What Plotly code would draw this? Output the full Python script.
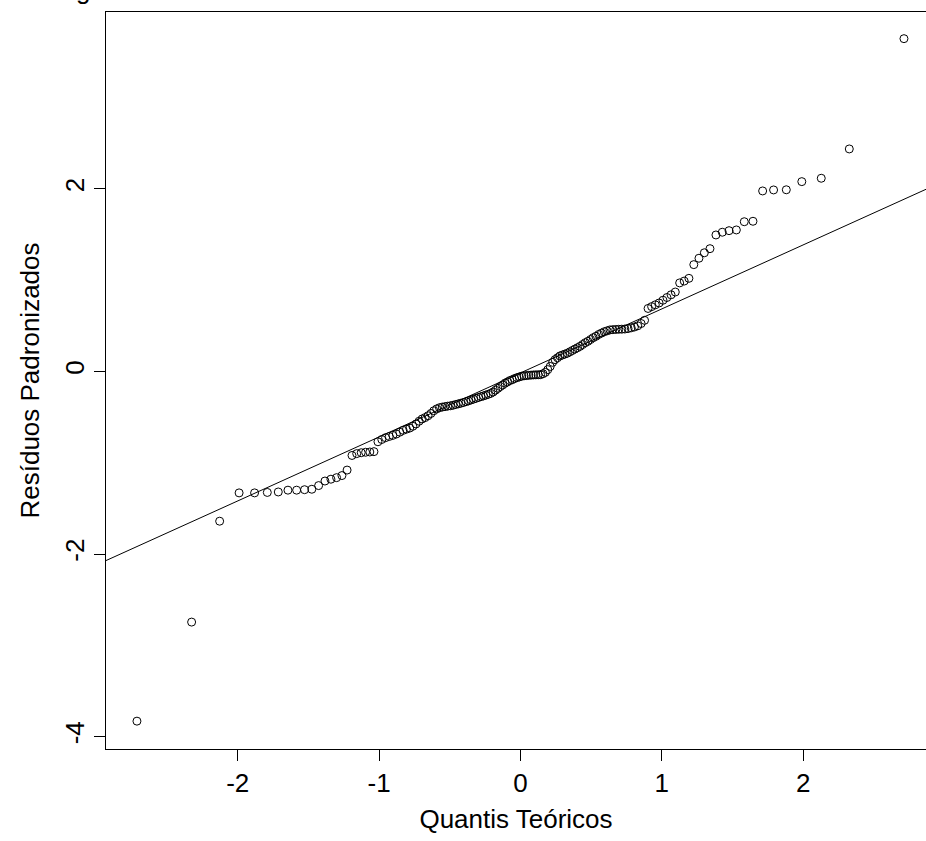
import plotly.graph_objects as go

# Theoretical normal quantiles (x) and sorted standardized residuals (y), n = 150
theoretical_quantiles = [
    -2.7131, -2.3263, -2.1280, -1.9904, -1.8808, -1.7908, -1.7133, -1.6449, -1.5834, -1.5274,
    -1.4758, -1.4279, -1.3830, -1.3408, -1.3008, -1.2628, -1.2264, -1.1917, -1.1584, -1.1264,
    -1.0954, -1.0655, -1.0364, -1.0082, -0.9808, -0.9541, -0.9281, -0.9027, -0.8779, -0.8536,
    -0.8297, -0.8064, -0.7835, -0.7610, -0.7388, -0.7171, -0.6956, -0.6745, -0.6536, -0.6331,
    -0.6128, -0.5927, -0.5729, -0.5534, -0.5340, -0.5148, -0.4958, -0.4770, -0.4584, -0.4399,
    -0.4216, -0.4034, -0.3853, -0.3674, -0.3496, -0.3319, -0.3142, -0.2967, -0.2793, -0.2620,
    -0.2447, -0.2275, -0.2104, -0.1934, -0.1764, -0.1594, -0.1425, -0.1257, -0.1088, -0.0920,
    -0.0753, -0.0585, -0.0418, -0.0251, -0.0084,
    0.0084, 0.0251, 0.0418, 0.0585, 0.0753, 0.0920, 0.1088, 0.1257, 0.1425, 0.1594,
    0.1764, 0.1934, 0.2104, 0.2275, 0.2447, 0.2620, 0.2793, 0.2967, 0.3142, 0.3319,
    0.3496, 0.3674, 0.3853, 0.4034, 0.4216, 0.4399, 0.4584, 0.4770, 0.4958, 0.5148,
    0.5340, 0.5534, 0.5729, 0.5927, 0.6128, 0.6331, 0.6536, 0.6745, 0.6956, 0.7171,
    0.7388, 0.7610, 0.7835, 0.8064, 0.8297, 0.8536, 0.8779, 0.9027, 0.9281, 0.9541,
    0.9808, 1.0082, 1.0364, 1.0655, 1.0954, 1.1264, 1.1584, 1.1917, 1.2264, 1.2628,
    1.3008, 1.3408, 1.3830, 1.4279, 1.4758, 1.5274, 1.5834, 1.6449, 1.7133, 1.7908,
    1.8808, 1.9904, 2.1280, 2.3263, 2.7131,
]

standardized_residuals = [
    -3.830, -2.745, -1.640, -1.330, -1.330, -1.325, -1.320, -1.300, -1.300, -1.295,
    -1.290, -1.250, -1.200, -1.180, -1.163, -1.140, -1.080, -0.920, -0.900, -0.890,
    -0.885, -0.882, -0.878, -0.770, -0.745, -0.725, -0.712, -0.700, -0.685, -0.665,
    -0.645, -0.632, -0.620, -0.600, -0.575, -0.545, -0.520, -0.505, -0.485, -0.460,
    -0.430, -0.410, -0.397, -0.390, -0.385, -0.380, -0.376, -0.370, -0.362, -0.355,
    -0.348, -0.340, -0.331, -0.322, -0.312, -0.303, -0.294, -0.285, -0.276, -0.268,
    -0.259, -0.250, -0.240, -0.225, -0.205, -0.185, -0.165, -0.148, -0.128, -0.115,
    -0.100, -0.090, -0.078, -0.068, -0.060,
    -0.052, -0.048, -0.045, -0.042, -0.040, -0.038, -0.037, -0.036, -0.035, -0.025,
    -0.010, 0.020, 0.055, 0.100, 0.130, 0.150, 0.170, 0.180, 0.190, 0.200,
    0.215, 0.230, 0.245, 0.260, 0.275, 0.295, 0.315, 0.330, 0.350, 0.370,
    0.385, 0.405, 0.420, 0.435, 0.445, 0.455, 0.458, 0.460, 0.462, 0.463,
    0.465, 0.470, 0.478, 0.487, 0.500, 0.525, 0.560, 0.690, 0.710, 0.730,
    0.750, 0.780, 0.810, 0.840, 0.870, 0.970, 0.990, 1.020, 1.170, 1.240,
    1.300, 1.345, 1.495, 1.525, 1.542, 1.550, 1.640, 1.645, 1.977, 1.988,
    1.990, 2.079, 2.116, 2.437, 3.645,
]

# Reference line (qqline)
line_intercept = -0.016
line_slope = 0.701
line_x = [-3.5, 3.5]

x_ticks = [-2, -1, 0, 1, 2]
y_ticks = [-4, -2, 0, 2]
x_title = "Quantis Teóricos"
y_title = "Resíduos Padronizados"
cropped_caption_fragment = "g"

FONT = "Liberation Sans, Arial, sans-serif"

fig = go.Figure()
fig.add_trace(go.Scatter(
    x=theoretical_quantiles, y=standardized_residuals, mode="markers",
    marker=dict(symbol="circle-open", size=8, color="black", line=dict(width=1, color="black")),
    showlegend=False, hoverinfo="x+y",
))
fig.add_trace(go.Scatter(
    x=line_x, y=[line_intercept + line_slope * v for v in line_x], mode="lines",
    line=dict(color="black", width=1), showlegend=False, hoverinfo="skip",
))

fig.update_layout(
    width=926, height=841,
    margin=dict(l=106, r=0, t=12, b=92),
    paper_bgcolor="white", plot_bgcolor="white",
    font=dict(family=FONT, size=26, color="black"),
)
fig.update_xaxes(
    range=[-2.932, 2.869], tickvals=x_ticks, ticktext=[str(v) for v in x_ticks],
    ticks="outside", ticklen=11, tickwidth=1, tickcolor="black",
    showline=True, linecolor="black", linewidth=1, mirror=True,
    showgrid=False, zeroline=False,
    title=dict(text=x_title, font=dict(size=26), standoff=12),
    tickfont=dict(size=26),
)
fig.update_yaxes(
    range=[-4.135, 3.937], tickvals=y_ticks, ticktext=[str(v) for v in y_ticks],
    ticks="outside", ticklen=11, tickwidth=1, tickcolor="black", tickangle=-90,
    showline=True, linecolor="black", linewidth=1, mirror=False,
    showgrid=False, zeroline=False,
    title=dict(text=y_title, font=dict(size=26), standoff=12),
    tickfont=dict(size=26),
)
# Fragment of a cropped caption visible at the very top-left of the reference
fig.add_annotation(
    text=cropped_caption_fragment, xref="paper", yref="paper",
    x=-0.028, y=1.0065, xanchor="center", yanchor="bottom",
    showarrow=False, font=dict(size=26, color="black"),
)

fig.write_html(
    "out.html",
    config={"displayModeBar": False},
    post_script="document.body.style.margin='0';document.body.style.overflow='hidden';",
)
